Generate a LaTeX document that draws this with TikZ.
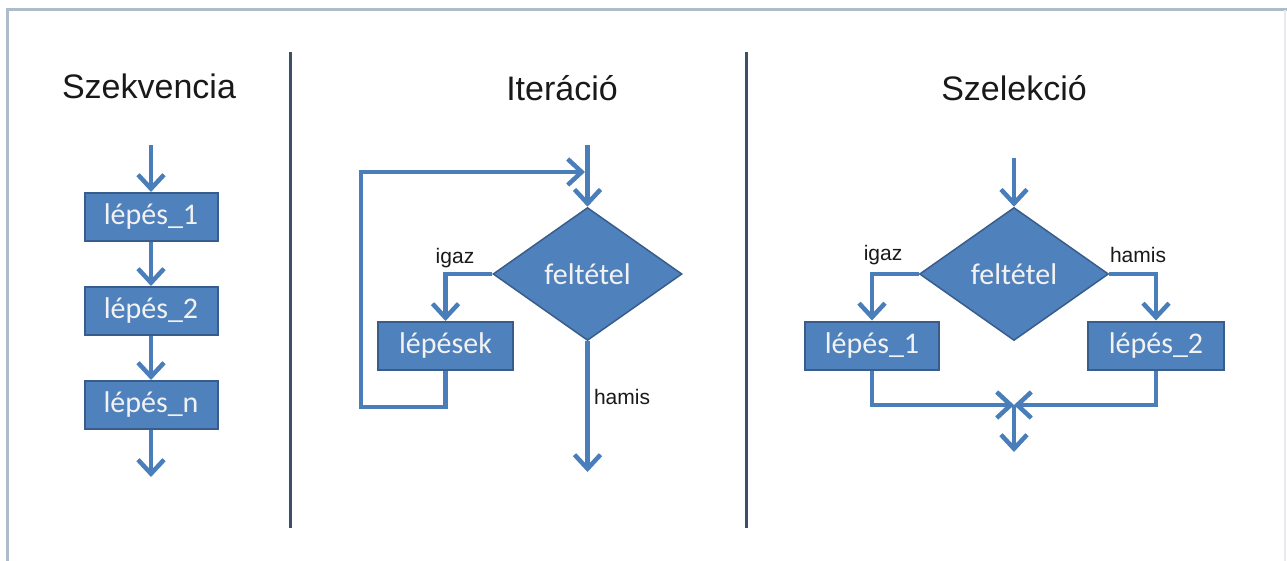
\documentclass[tikz,border=0pt]{standalone}
\usepackage{fontspec}
\setmainfont{Liberation Sans}
\newfontfamily\boxfont{Carlito}
\usetikzlibrary{arrows.meta,shapes.geometric}
\definecolor{boxfill}{HTML}{4F81BD}
\definecolor{boxedge}{HTML}{385D8A}
\definecolor{conn}{HTML}{4A7EBB}
\definecolor{sepcol}{HTML}{3E5068}
\definecolor{framecol}{HTML}{AEBBCA}
\definecolor{boxtext}{HTML}{F2F2F2}
\tikzset{
  stepbox/.style={draw=boxedge, line width=2pt, fill=boxfill, rectangle,
    minimum height=48pt, inner sep=0pt, text=boxtext,
    font=\boxfont\fontsize{30}{34}\selectfont},
  decision/.style={draw=boxedge, line width=1.5pt, fill=boxfill, diamond,
    minimum width=189pt, minimum height=133pt, inner sep=0pt, text=boxtext,
    font=\boxfont\fontsize{30}{34}\selectfont},
  title/.style={font=\fontsize{34}{38}\selectfont, text=black!90},
  lbl/.style={font=\fontsize{21}{25}\selectfont, text=black!90},
  arr/.style={draw=conn, line width=4.5pt,
    -{Straight Barb[length=14pt,width=26pt]}},
  sep/.style={draw=sepcol, line width=3pt},
}
\begin{document}
\begin{tikzpicture}[x=1pt,y=-1pt]
\useasboundingbox (0,0) rectangle (1287,561);
\fill[white] (0,0) rectangle (1287,561);
% frame
\draw[framecol, line width=3pt] (7,561) -- (7,10) -- (1287,10);
\draw[framecol!30, line width=2pt] (1285,10) -- (1285,561);
% separators
\draw[sep] (290,52) -- (290,528);
\draw[sep] (746,52) -- (746,528);

% ---- Szekvencia
\node[title] (t1) at (149,86) {Szekvencia};
\coordinate (qtop) at (151,145);
\node[stepbox, minimum width=133pt] (q1) at (151,217) {lépés\_1};
\node[stepbox, minimum width=133pt] (q2) at (151,311) {lépés\_2};
\node[stepbox, minimum width=133pt] (q3) at (151,405) {lépés\_n};
\coordinate (qend) at (151,477);
\draw[arr] (qtop) -- (q1.north);
\draw[arr] (q1.south) -- (q2.north);
\draw[arr] (q2.south) -- (q3.north);
\draw[arr] (q3.south) -- (qend);

% ---- Iteráció
\node[title] (t2) at (562,88) {Iteráció};
\coordinate (itop) at (587.5,145);
\node[decision] (d1) at (587.5,274) {feltétel};
\node[stepbox, minimum width=135pt] (lep) at (445.5,346) {lépések};
\coordinate (loopA) at (361,407);
\coordinate (loopB) at (361,172);
\coordinate (loopC) at (585,172);
\coordinate (iend) at (587.5,472);
\draw[arr] (itop) -- (d1.north);
\draw[arr] (d1.west) -| (lep.north);
\draw[arr] (lep.south) |- (loopA) -- (loopB) -- (loopC);
\draw[arr] (d1.south) -- (iend);
\node[lbl] (ig1) at (455,258) {igaz};
\node[lbl] (ha1) at (622,397) {hamis};

% ---- Szelekció
\node[title] (t3) at (1014,88) {Szelekció};
\coordinate (stop) at (1014,158);
\node[decision] (d2) at (1014,274) {feltétel};
\node[stepbox, minimum width=134pt] (s1) at (872,345.5) {lépés\_1};
\node[stepbox, minimum width=136pt] (s2) at (1156,345.5) {lépés\_2};
\coordinate (merge) at (1014,405);
\coordinate (send) at (1014,452);
\draw[arr] (stop) -- (d2.north);
\draw[arr] (d2.west) -| (s1.north);
\draw[arr] (d2.east) -| (s2.north);
\draw[arr] (s1.south) |- (merge);
\draw[arr] (s2.south) |- (merge);
\draw[arr] (merge) -- (send);
\node[lbl] (ig2) at (883,255) {igaz};
\node[lbl] (ha2) at (1138,255) {hamis};
\end{tikzpicture}
\end{document}
